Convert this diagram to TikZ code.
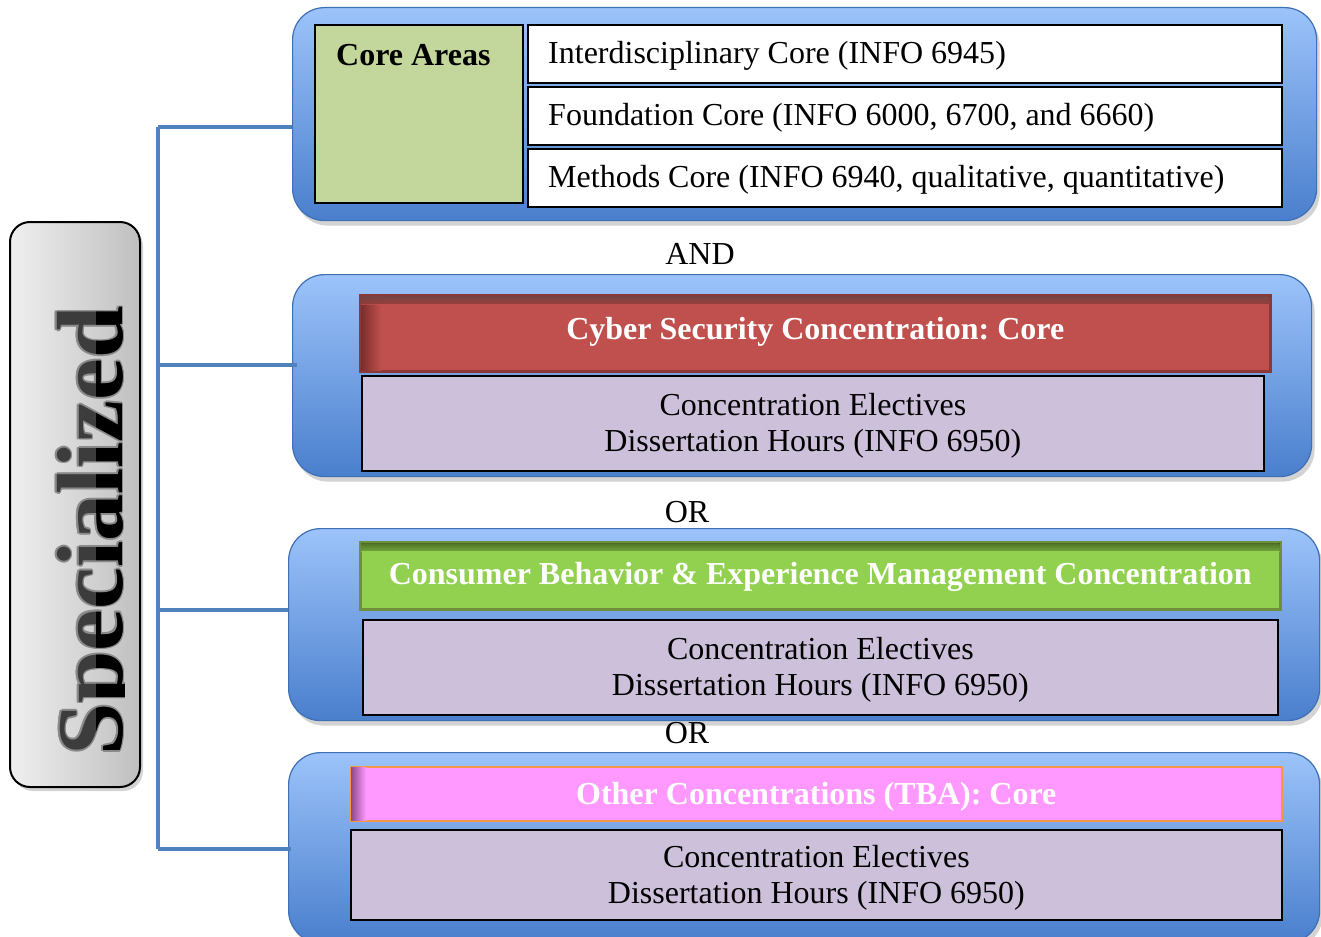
\documentclass[tikz,border=0pt]{standalone}
\usepackage{fontspec}
\setmainfont{Liberation Serif}
\usetikzlibrary{shadows,calc}
\definecolor{linkblue}{HTML}{4F81BD}
\definecolor{paneltop}{HTML}{9CC3FA}
\definecolor{panelbot}{HTML}{4A7FCD}
\definecolor{panelline}{HTML}{3F6FB5}
\definecolor{coregreen}{HTML}{C3D69B}
\definecolor{lav}{HTML}{CCC0DA}
\definecolor{redbar}{HTML}{C0504D}
\definecolor{redline}{HTML}{8C3836}
\definecolor{reddark}{HTML}{7A2E2C}
\definecolor{greenbar}{HTML}{92D050}
\definecolor{greenline}{HTML}{6F8F3A}
\definecolor{greendark}{HTML}{5E8A2C}
\definecolor{pinkbar}{HTML}{FF99FF}
\definecolor{pinkline}{HTML}{F79646}
\definecolor{pinkdark}{HTML}{8A4A8A}
\definecolor{spectop}{HTML}{3C3C3C}
\definecolor{specline}{HTML}{8A8A8A}
\tikzset{
  panel/.style={draw=panelline, line width=1.2pt, rounded corners=32pt, top color=paneltop, bottom color=panelbot,
    drop shadow={opacity=0.35, shadow xshift=3pt, shadow yshift=-5pt}, anchor=north west, inner sep=0pt},
  wbox/.style={draw=black, line width=1.8pt, fill=white, anchor=north west, inner sep=0pt},
  wtext/.style={anchor=west, inner sep=0pt, font=\frenchspacing\fontsize{32}{36}\selectfont},
  lbox/.style={draw=black, line width=1.8pt, fill=lav, anchor=north west, inner sep=0pt},
  ltext/.style={inner sep=0pt, align=center, font=\fontsize{32}{36}\selectfont},
  bar/.style={anchor=north west, inner sep=0pt, line width=2.5pt},
  bartext/.style={inner sep=0pt, font=\frenchspacing\bfseries\fontsize{32}{36}\selectfont, text=white},
  link/.style={draw=linkblue, line width=4pt},
  plain/.style={font=\fontsize{32}{36}\selectfont, inner sep=0pt},
  spectxt/.style={rotate=90, anchor=base, inner sep=0pt, font=\bfseries\fontsize{94}{100}\selectfont},
}
\begin{document}
\begin{tikzpicture}[x=1pt,y=-1pt]
\useasboundingbox (0,0) rectangle (1321,936);
% left label
\node[draw=black, line width=2pt, rounded corners=20pt, left color=gray!12, right color=gray!50,
  drop shadow={opacity=0.35, shadow xshift=3pt, shadow yshift=-4pt}, anchor=north west,
  minimum width=130pt, minimum height=565pt, inner sep=0pt] (spec) at (9,221) {};
\begin{scope}
  \clip (40,280) rectangle (124,780);
  \foreach \dx/\dy [count=\k] in {1.6/0,-1.6/0,0/1.6,0/-1.6,1.1/1.1,-1.1/1.1,1.1/-1.1,-1.1/-1.1}
    \node[spectxt, text=specline] (sc\k) at (122+\dx,531+\dy) {Specialized};
  \node[spectxt, text=spectop] (spectext) at (122,531) {Specialized};
  \clip (96,280) rectangle (124,780);
  \node[spectxt, text=black] (spectextb) at (122,531) {Specialized};
\end{scope}
% panels
\node[panel, minimum width=1024pt, minimum height=213pt] (p1) at (292,7) {};
\node[panel, minimum width=1019pt, minimum height=202pt] (p2) at (292,274) {};
\node[panel, minimum width=1031pt, minimum height=192pt] (p3) at (288,528) {};
\node[panel, minimum width=1031pt, minimum height=190pt] (p4) at (288,752) {};
% connectors
\coordinate (t1) at (158,127);
\coordinate (t2) at (158,365);
\coordinate (t3) at (158,610);
\coordinate (t4) at (158,849);
\draw[link] (t1) -- (t4);
\draw[link] (t1) -- (t1 -| p1.west);
\draw[link] (t2) -- ($(t2 -| p2.west)+(5,0)$);
\draw[link] (t3) -- (t3 -| p3.west);
\draw[link] (t4) -- ($(t4 -| p4.west)+(3,0)$);
% panel 1
\node[draw=black, line width=1.8pt, fill=coregreen, anchor=north west, minimum width=208pt, minimum height=178pt, inner sep=0pt] (core) at (314,24) {};
\node[anchor=base west, inner sep=0pt, font=\bfseries\fontsize{32}{36}\selectfont] (coretext) at (336,66) {Core Areas};
\node[wbox, minimum width=754pt, minimum height=58pt] (r1) at (527,24) {};
\node[wbox, minimum width=754pt, minimum height=58pt] (r2) at (527,86) {};
\node[wbox, minimum width=754pt, minimum height=58pt] (r3) at (527,148) {};
\node[wtext] (r1t) at ($(r1.west)+(21,2)$) {Interdisciplinary Core (INFO 6945)};
\node[wtext] (r2t) at ($(r2.west)+(21,2)$) {Foundation Core (INFO 6000, 6700, and 6660)};
\node[wtext] (r3t) at ($(r3.west)+(21,2)$) {Methods Core (INFO 6940, qualitative, quantitative)};
\node[plain] (and) at (700,254) {AND};
% panel 2
\node[bar, draw=redline, fill=redbar, minimum width=910pt, minimum height=76pt] (b2) at (359,294) {};
\fill[left color=reddark, right color=redbar] ($(b2.north west)+(2,2)$) rectangle ($(b2.south west)+(22,-2)$);
\fill[top color=reddark!80, bottom color=redbar, opacity=0.7] ($(b2.north west)+(2,2)$) rectangle ($(b2.north east)+(-2,10)$);
\node[bartext] (b2t) at ($(b2.center)+(0,-1)$) {Cyber Security Concentration: Core};
\node[lbox, minimum width=902pt, minimum height=95pt] (l2) at (361,375) {};
\node[ltext] (l2t) at ($(l2.center)+(0,2)$) {Concentration Electives\\Dissertation Hours (INFO 6950)};
\node[plain] (or1) at (687,512) {OR};
% panel 3
\node[bar, draw=greenline, fill=greenbar, minimum width=920pt, minimum height=67pt] (b3) at (359,541) {};
\fill[top color=greendark, bottom color=greenbar, opacity=0.7] ($(b3.north west)+(2,2)$) rectangle ($(b3.north east)+(-2,10)$);
\node[bartext] (b3t) at ($(b3.center)+(0,1)$) {Consumer Behavior \& Experience Management Concentration};
\node[lbox, minimum width=915pt, minimum height=95pt] (l3) at (362,619) {};
\node[ltext] (l3t) at ($(l3.center)+(0,2)$) {Concentration Electives\\Dissertation Hours (INFO 6950)};
\node[plain] (or2) at (687,733) {OR};
% panel 4
\node[bar, draw=pinkline, line width=1.5pt, fill=pinkbar, minimum width=931pt, minimum height=54pt] (b4) at (350,766) {};
\fill[left color=pinkdark, right color=pinkbar] ($(b4.north west)+(1,1)$) rectangle ($(b4.south west)+(16,-1)$);
\node[bartext] (b4t) at ($(b4.center)+(0,3)$) {Other Concentrations (TBA): Core};
\node[lbox, minimum width=931pt, minimum height=90pt] (l4) at (350,829) {};
\node[ltext] (l4t) at ($(l4.center)+(0,3)$) {Concentration Electives\\Dissertation Hours (INFO 6950)};
\end{tikzpicture}
\end{document}
